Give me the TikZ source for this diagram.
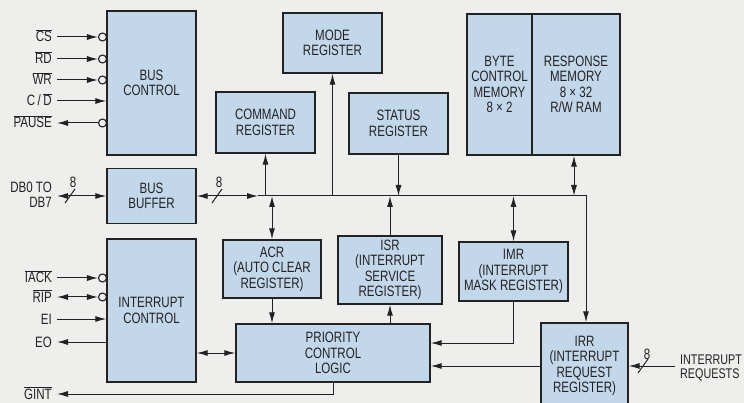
\documentclass[tikz,border=0pt]{standalone}
\usepackage{fontspec}
\setmainfont[FakeStretch=0.77]{Liberation Sans}
\usetikzlibrary{arrows.meta}
\definecolor{bg}{HTML}{EEEEEC}
\definecolor{boxfill}{HTML}{C3D7EA}
\definecolor{ink}{HTML}{222222}
\newcommand{\ovl}[1]{$\overline{\hbox{#1}}$}
\begin{document}
\begin{tikzpicture}[x=1pt,y=-1pt,
  font=\fontsize{15}{15.5}\selectfont,
  every node/.style={text=ink},
  >={Latex[length=11pt,width=6pt]},
  box/.style={draw=ink,line width=1.4pt,fill=boxfill,align=center,inner sep=0pt},
  conn/.style={draw=ink,line width=1pt},
  bubble/.style={circle,draw=ink,fill=bg,line width=1.1pt,minimum size=8pt,inner sep=0pt},
  lbl/.style={anchor=base east,inner sep=0pt},
  tick/.style={draw=ink,line width=1pt}]
\fill[bg] (0,0) rectangle (744,403);
\useasboundingbox (0,0) rectangle (744,403);
\clip (0,0) rectangle (744,403);

% boxes
\node[box,minimum width=89pt,minimum height=144pt] (bc) at (151.5,83) {BUS\\CONTROL};
\node[box,minimum width=89pt,minimum height=55pt] (bb) at (151.5,196) {BUS\\BUFFER};
\node[box,minimum width=89pt,minimum height=143pt] (ic) at (151.5,310.5) {INTERRUPT\\CONTROL};
\node[box,minimum width=99pt,minimum height=60pt] (mode) at (332.5,43) {MODE\\REGISTER};
\node[box,minimum width=99pt,minimum height=61pt] (cmd) at (265.5,122.5) {COMMAND\\REGISTER};
\node[box,minimum width=99pt,minimum height=61pt] (stat) at (398.5,123.5) {STATUS\\REGISTER};
\node[box,minimum width=65pt,minimum height=141pt] (bcm) at (499.5,84.5) {BYTE\\CONTROL\\MEMORY\\8 × 2};
\node[box,minimum width=88pt,minimum height=141pt] (resp) at (576,84.5) {RESPONSE\\MEMORY\\8 × 32\\R/W RAM};
\node[box,minimum width=98pt,minimum height=58pt] (acr) at (272,269) {ACR\\(AUTO CLEAR\\REGISTER)};
\node[box,minimum width=104pt,minimum height=68pt] (isr) at (390,270) {ISR\\(INTERRUPT\\SERVICE\\REGISTER)};
\node[box,minimum width=109pt,minimum height=59pt] (imr) at (513.5,271.5) {IMR\\(INTERRUPT\\MASK REGISTER)};
\node[box,minimum width=194pt,minimum height=58pt] (pcl) at (333,353) {PRIORITY\\CONTROL\\LOGIC};
\node[box,minimum width=87pt,minimum height=86pt] (irr) at (584.5,366) {IRR\\(INTERRUPT\\REQUEST\\REGISTER)};

% bus control signals
\node[lbl] (cs) at (52,42) {\ovl{CS}};
\coordinate (csS) at (57,37);
\node[bubble] (csB) at (102.5,37) {};
\draw[conn,->] (csS) -- (csB.west);
\node[lbl] (rd) at (52,64) {\ovl{RD}};
\coordinate (rdS) at (57,59);
\node[bubble] (rdB) at (102.5,59) {};
\draw[conn,->] (rdS) -- (rdB.west);
\node[lbl] (wr) at (52,85) {\ovl{WR}};
\coordinate (wrS) at (57,80);
\node[bubble] (wrB) at (102.5,80) {};
\draw[conn,->] (wrS) -- (wrB.west);
\node[lbl] (cd) at (52,106) {C\,/\,\ovl{D}};
\coordinate (cdS) at (57,101);
\draw[conn,->] (cdS) -- (bc.west |- cdS);
\node[lbl] (pause) at (52,128) {\ovl{PAUSE}};
\coordinate (pS) at (57,123);
\node[bubble] (pB) at (102.5,123) {};
\draw[conn,->] (pB.west) -- (pS);

% data bus
\node[anchor=east,align=right,inner sep=0pt] (db) at (52,195) {DB0 TO\\DB7};
\coordinate (dbS) at (57,196);
\draw[conn,<->] (dbS) -- (bb.west);
\draw[tick] (65,203) -- (75,189);
\node (n8a) at (73,182) {8};
\coordinate (busL) at (258,196);
\coordinate (busR) at (586,196);
\draw[conn,<->] (bb.east) -- (busL);
\draw[tick] (212,203) -- (222,189);
\node (n8b) at (219,182) {8};
\draw[conn,->] (busL) -- (busR) -- (busR |- irr.north);

% bus connections
\draw[conn,->] (cmd.south |- busL) -- (cmd.south);
\draw[conn,->] (mode.south |- busL) -- (mode.south);
\draw[conn,->] (stat.south) -- (stat.south |- busL);
\draw[conn,<->] (acr.north |- busL) -- (acr.north);
\draw[conn,->] (isr.north) -- (isr.north |- busL);
\draw[conn,<->] (imr.north |- busL) -- (imr.north);
\draw[conn,<->] ([xshift=-2pt]resp.south) -- ([xshift=-2pt]resp.south |- busL);

% lower connections
\draw[conn,->] (acr.south) -- (acr.south |- pcl.north);
\draw[conn,->] (isr.south |- pcl.north) -- (isr.south);
\coordinate (imrK) at (513.5,343);
\draw[conn,->] (imr.south) -- (imrK) -- (pcl.east |- imrK);
\draw[conn,<->] (ic.east |- pcl.west) -- (pcl.west);

% interrupt requests
\node[anchor=west,align=left,inner sep=0pt,font=\fontsize{14}{14.5}\selectfont] (irq) at (680,368) {INTERRUPT\\REQUESTS};
\coordinate (irqS) at (675,366);
\draw[conn,->] (irqS) -- (irr.east |- irqS);
\draw[tick] (638,373) -- (648,359);
\node (n8c) at (647,354) {8};
\draw[conn,->] (irr.west |- irqS) -- (pcl.east |- irqS);

% interrupt control signals
\node[lbl] (iack) at (52,283) {\ovl{IACK}};
\coordinate (iackS) at (57,278);
\node[bubble] (iackB) at (102.5,278) {};
\draw[conn,->] (iackS) -- (iackB.west);
\node[lbl] (rip) at (52,302) {\ovl{RIP}};
\coordinate (ripS) at (57,297);
\node[bubble] (ripB) at (102.5,297) {};
\draw[conn,<->] (ripS) -- (ripB.west);
\node[lbl] (ei) at (52,324) {EI};
\coordinate (eiS) at (57,319);
\draw[conn,->] (eiS) -- (ic.west |- eiS);
\node[lbl] (eo) at (52,347) {EO};
\coordinate (eoS) at (57,342);
\draw[conn,->] (ic.west |- eoS) -- (eoS);
\node[lbl] (gint) at (52,399) {\ovl{GINT}};
\coordinate (gS) at (57,394);
\draw[conn,->] (pcl.south) -- (pcl.south |- gS) -- (gS);
\end{tikzpicture}
\end{document}
